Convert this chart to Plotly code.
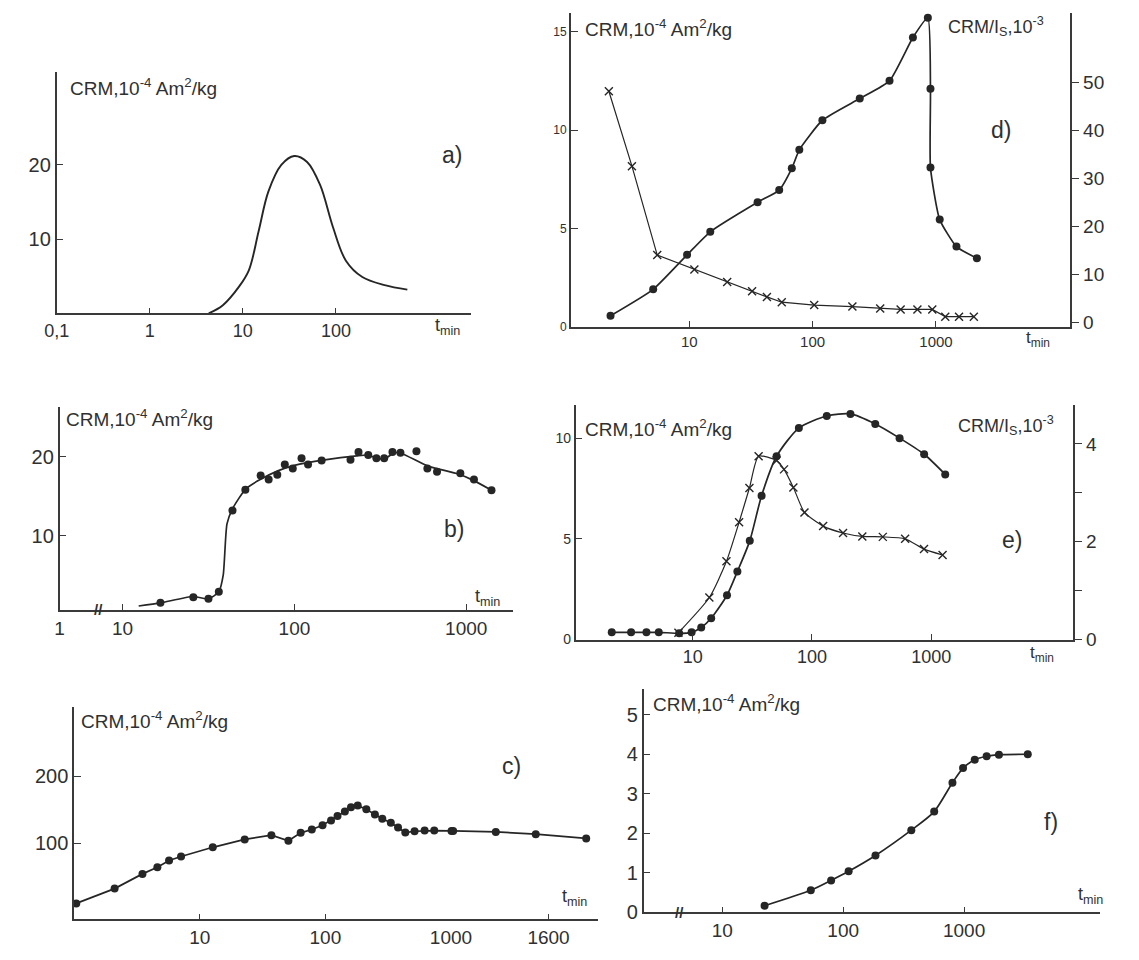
import math
import plotly.graph_objects as go

W, H = 1139, 960

# ---------------- data ----------------
# a)
a_t = [4.3, 6.1, 9.1, 11.6, 14.8, 18.8, 25.9, 35.6, 49, 67.6, 93, 128, 192, 334, 585]
a_v = [0, 1.1, 3.6, 5.8, 11.1, 16.4, 20.0, 21.2, 20.4, 17.3, 11.6, 7.1, 4.9, 3.8, 3.2]

# d) CRM (dots, left axis)
d_t = [2.3, 5.1, 9.6, 14.8, 35.8, 53.6, 67.8, 78, 120, 241, 420, 650, 859, 902, 902, 1072, 1465, 2145]
d_v = [0.58, 1.92, 3.67, 4.84, 6.34, 6.96, 8.06, 9.0, 10.5, 11.6, 12.5, 14.7, 15.7, 12.1, 8.1, 5.46, 4.09, 3.5]
# d) CRM/Is (crosses, right axis)
d2_t = [2.23, 3.43, 5.5, 11.0, 20.3, 32.3, 42.6, 56.2, 103, 210, 353, 517, 707, 933, 1189, 1537, 2027]
d2_v = [48.1, 32.5, 14.0, 11.0, 8.4, 6.5, 5.3, 4.2, 3.6, 3.3, 2.9, 2.7, 2.7, 2.7, 1.2, 1.2, 1.2]

# b) measured points and fitted curve
b_t = [16.6, 25.8, 31.6, 36.3, 43.6, 51.8, 63.6, 70.8, 79.5, 87.9, 97.8, 110, 120, 144, 212, 236,
       269, 300, 333, 372, 414, 513, 594, 676, 924, 1109, 1403]
b_v = [1.5, 2.2, 2.0, 2.9, 13.2, 15.8, 17.6, 17.1, 17.7, 19.0, 18.5, 19.8, 19.0, 19.5, 19.6, 20.6,
       20.2, 19.8, 19.8, 20.6, 20.5, 20.7, 18.5, 18.1, 17.9, 17.1, 15.75]
bl_t = [12.4, 16.6, 25.8, 31.6, 36.3, 38.5, 40.5, 43.6, 52, 62, 80, 100, 150, 230, 270, 300, 340,
        380, 420, 600, 900, 1100, 1403]
bl_v = [1.1, 1.5, 2.3, 2.0, 2.9, 5.0, 11.5, 13.4, 15.9, 17.0, 18.2, 18.9, 19.6, 20.1, 20.2, 19.8,
        19.8, 20.5, 20.4, 18.8, 17.8, 17.0, 15.75]

# e) CRM (dots, left) and CRM/Is (crosses, right)
e_t = [2.1, 3.05, 4.1, 5.2, 7.7, 9.8, 11.8, 14.3, 19.4, 23.7, 30.1, 37.8, 50.5, 77.6, 133, 210, 339, 542, 870, 1307]
e_v = [0.36, 0.36, 0.36, 0.36, 0.31, 0.36, 0.6, 1.06, 2.2, 3.38, 4.9, 7.14, 9.1, 10.5, 11.1, 11.2, 10.7, 10.0, 9.2, 8.2]
e2_t = [7.6, 13.8, 19.2, 24.5, 29.9, 35.7, 50.5, 58.3, 69.8, 86.5, 124, 182, 264, 392, 603, 868, 1242]
e2_v = [0.14, 0.86, 1.6, 2.4, 3.1, 3.75, 3.66, 3.48, 3.11, 2.6, 2.32, 2.18, 2.11, 2.1, 2.06, 1.85, 1.73]

# c)  (axis is logarithmic up to 1000 min, linear beyond, as in the original)
c_t = [1.04, 2.1, 3.5, 4.6, 5.7, 7.1, 12.7, 22.8, 37.2, 50.8, 63.6, 78, 95, 111, 125, 143, 160, 181,
       212, 248, 284, 332, 379, 433, 513, 617, 736, 1010, 1274, 1521, 1833]
c_v = [10.7, 32.7, 54.6, 64.4, 74.6, 80.5, 94.1, 105.9, 112.2, 103.9, 115.6, 120.5, 126.8, 134.1,
       140.5, 147.3, 153.7, 156.1, 150.7, 142.9, 136.6, 130.7, 123.4, 116.1, 118, 119, 119, 118.5,
       117, 113.7, 107.3]
C_SPLIT = 1010

# f)
f_t = [22.4, 54, 79.5, 111, 185, 366, 566, 801, 980, 1224, 1536, 1940, 3360]
f_v = [0.17, 0.56, 0.81, 1.04, 1.44, 2.08, 2.55, 3.28, 3.65, 3.86, 3.95, 3.99, 4.0]

# ---------------- styling helpers ----------------
INK = "#262626"
AX = "#3a3a3a"
TXT = "#303030"
FONT = "Liberation Sans, Arial, sans-serif"


def fx(px):
    return px / W


def fy(py):
    return 1 - py / H


def xax(x0, x1, anchor, rng, vals, texts, size=18, typ="log"):
    return dict(domain=[fx(x0), fx(x1)], anchor=anchor, type=typ, range=rng,
                tickmode="array", tickvals=vals, ticktext=texts, ticks="inside", ticklen=6,
                tickwidth=1.3, tickcolor=AX, showline=True, linecolor=AX, linewidth=1.6,
                showgrid=False, zeroline=False, tickangle=0,
                tickfont=dict(size=size, color=TXT, family=FONT))


def yax(y0, y1, anchor, rng, vals, texts, size=20, ticks="inside", side="left"):
    return dict(domain=[fy(y0), fy(y1)], anchor=anchor, range=rng, tickmode="array",
                tickvals=vals, ticktext=texts, ticks=ticks, ticklen=7, tickwidth=1.3,
                tickcolor=AX, showline=True, linecolor=AX, linewidth=1.6, showgrid=False,
                zeroline=False, side=side, tickfont=dict(size=size, color=TXT, family=FONT))


fig = go.Figure()

dot = dict(symbol="circle", size=8, color=INK)
cross = dict(symbol="x-thin", size=8, line=dict(width=1.4, color=INK), color=INK)

# a
fig.add_trace(go.Scatter(x=a_t, y=a_v, mode="lines", line=dict(color=INK, width=1.9, shape="spline", smoothing=1.0),
                         xaxis="x", yaxis="y"))
# d
fig.add_trace(go.Scatter(x=d_t, y=d_v, mode="lines+markers", marker=dot,
                         line=dict(color=INK, width=1.7, shape="spline", smoothing=0.5), xaxis="x2", yaxis="y2"))
fig.add_trace(go.Scatter(x=d2_t, y=d2_v, mode="lines+markers", marker=cross,
                         line=dict(color=INK, width=1.2), xaxis="x2", yaxis="y7"))
# b
fig.add_trace(go.Scatter(x=bl_t, y=bl_v, mode="lines", line=dict(color=INK, width=1.7, shape="spline", smoothing=0.6),
                         xaxis="x3", yaxis="y3"))
fig.add_trace(go.Scatter(x=b_t, y=b_v, mode="markers", marker=dot, xaxis="x3", yaxis="y3"))
# e
fig.add_trace(go.Scatter(x=e_t, y=e_v, mode="lines+markers", marker=dot,
                         line=dict(color=INK, width=1.7, shape="spline", smoothing=0.7), xaxis="x4", yaxis="y4"))
fig.add_trace(go.Scatter(x=e2_t, y=e2_v, mode="lines+markers", marker=cross,
                         line=dict(color=INK, width=1.2, shape="spline", smoothing=0.6), xaxis="x4", yaxis="y8"))
# c : log part and linear tail
c_lo = [(t, v) for t, v in zip(c_t, c_v) if t <= C_SPLIT]
c_hi = [(t, v) for t, v in zip(c_t, c_v) if t >= C_SPLIT]
fig.add_trace(go.Scatter(x=[p[0] for p in c_lo], y=[p[1] for p in c_lo], mode="lines+markers", marker=dot,
                         line=dict(color=INK, width=1.7), xaxis="x5", yaxis="y5", cliponaxis=False))
fig.add_trace(go.Scatter(x=[p[0] for p in c_hi], y=[p[1] for p in c_hi], mode="lines+markers", marker=dot,
                         line=dict(color=INK, width=1.7), xaxis="x7", yaxis="y9", cliponaxis=False))
# f
fig.add_trace(go.Scatter(x=f_t, y=f_v, mode="lines+markers", marker=dot,
                         line=dict(color=INK, width=1.7, shape="spline", smoothing=0.7), xaxis="x6", yaxis="y6"))

layout = dict(
    width=W, height=H, margin=dict(l=0, r=0, t=0, b=0), paper_bgcolor="white", plot_bgcolor="white",
    showlegend=False, font=dict(family=FONT, color=TXT),
    # a
    xaxis=xax(45, 472, "y", [-1, 3.45], [0.1, 1, 10, 100], ["0,1", "1", "10", "100"]),
    yaxis=yax(317, 73, "x", [0, 32.5], [10, 20], ["10", "20"]),
    # d
    xaxis2=xax(575, 1090, "y2", [0.04, 4.09], [10, 100, 1000], ["10", "100", "1000"], size=15),
    yaxis2=yax(331, 13, "x2", [0, 15.95], [0, 5, 10, 15], ["0", "5", "10", "15"], size=12),
    yaxis7=dict(yax(331, 13, "x2", [-1.0, 64.4], [0, 10, 20, 30, 40, 50], ["0", "10", "20", "30", "40", "50"],
                    size=19, ticks="outside", side="right"), overlaying="y2"),
    # b
    xaxis3=xax(48, 515, "y3", [0.633, 3.27], [10 ** 0.633, 10, 100, 1000], ["1", "10", "100", "1000"], size=19),
    yaxis3=yax(617, 412, "x3", [0.6, 26.25], [10, 20], ["10", "20"]),
    # e
    xaxis4=xax(580, 1093, "y4", [0.02, 4.19], [10, 100, 1000], ["10", "100", "1000"], size=18),
    yaxis4=yax(647, 410, "x4", [0, 11.63], [0, 5, 10], ["0", "5", "10"], size=14),
    yaxis8=dict(yax(647, 410, "x4", [0, 4.79], [0, 1, 2, 3, 4], ["0", "", "2", "", "4"],
                    size=19, ticks="outside", side="right"), overlaying="y4"),
    # c
    xaxis5=xax(63, 452, "y5", [0, math.log10(C_SPLIT)], [10, 100, 1000], ["10", "100", "1000"], size=19),
    xaxis7=xax(452, 603, "y9", [1000, 1906], [1600], ["1600"], size=19, typ="linear"),
    yaxis5=yax(930, 715, "x5", [-13, 303], [100, 200], ["100", "200"]),
    yaxis9=dict(domain=[fy(930), fy(715)], anchor="x7", range=[-13, 303], visible=False),
    # f
    xaxis6=xax(650, 1120, "y6", [0.35, 4.12], [10, 100, 1000], ["10", "100", "1000"], size=19),
    yaxis6=yax(923, 697, "x6", [0, 5.65], [0, 1, 2, 3, 4, 5], ["0", "1", "2", "3", "4", "5"]),
)
fig.update_layout(**layout)

CRM = "CRM,10<sup>-4</sup> Am<sup>2</sup>/kg"
RAT = "CRM/I<sub>S</sub>,10<sup>-3</sup>"
TMIN = "t<sub>min</sub>"


def note(px, py, text, size=16, xanchor="left"):
    fig.add_annotation(x=fx(px), y=fy(py), xref="paper", yref="paper", text=text, showarrow=False,
                       xanchor=xanchor, yanchor="middle", font=dict(size=size, color=TXT, family=FONT))


# axis titles
note(57, 88, CRM, 19)
note(588, 28, CRM, 19)
note(962, 27, RAT, 18)
note(53, 423, CRM, 19)
note(588, 433, CRM, 19)
note(972, 430, RAT, 18)
note(68, 728, CRM, 19)
note(658, 711, CRM, 19)
# panel letters
note(452, 157, "a)", 23, "center")
note(1018, 132, "d)", 23, "center")
note(455, 535, "b)", 23, "center")
note(1030, 546, "e)", 23, "center")
note(514, 775, "c)", 23, "center")
note(1070, 832, "f)", 23, "center")
# t_min
note(433, 330, TMIN, 18)
note(1042, 343, TMIN, 17)
note(474, 604, TMIN, 18)
note(1046, 662, TMIN, 17)
note(564, 908, TMIN, 18)
note(1096, 906, TMIN, 18)
# axis breaks
note(88, 617, "<b>//</b>", 15, "center")
note(687, 923, "<b>//</b>", 15, "center")

fig.write_html("out.html")
